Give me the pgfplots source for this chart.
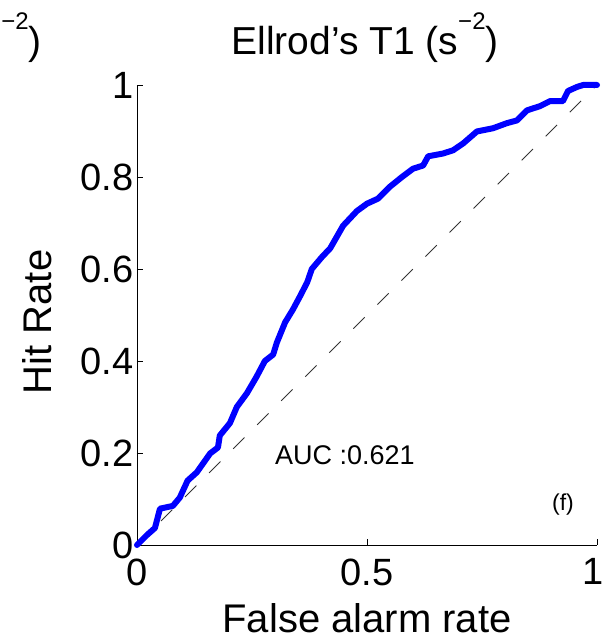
\documentclass[border=0pt]{standalone}
\usepackage{fontspec}
\setmainfont{Liberation Sans}
\usepackage{pgfplots}
\pgfplotsset{compat=1.18}
\newcommand{\supm}{\raisebox{25pt}{\fontsize{24}{28}\selectfont −2}}
\begin{document}
\begin{tikzpicture}[x=1pt,y=1pt]
\useasboundingbox (-137,-93) rectangle (469,545);
\node[anchor=base, inner sep=0pt, font=\fontsize{39}{45}\selectfont] at (228,490) {Ellrod’s T1 (s\supm)};
\node[anchor=base east, inner sep=0pt, font=\fontsize{39}{45}\selectfont] at (-95,490) {\supm)};
\begin{axis}[
  at={(0,0)}, anchor=south west,
  scale only axis, width=460pt, height=460pt,
  xmin=0, xmax=1, ymin=0, ymax=1,
  axis x line*=bottom, axis y line*=left,
  xtick={0,0.5,1}, xticklabels={0,0.5,\kern-8pt 1},
  ytick={0,0.2,0.4,0.6,0.8,1}, yticklabels={0,0.2,0.4,0.6,0.8,1},
  tick align=inside, major tick length=6pt,
  tick style={black, line width=0.8pt},
  axis line style={black, line width=0.8pt},
  /pgf/number format/assume math mode=true,
  ticklabel style={font=\fontsize{38}{44}\selectfont},
  xticklabel style={yshift=-10pt},
  xlabel={False alarm rate},
  xlabel style={at={(axis description cs:0.5,-0.191)}, anchor=base, font=\fontsize{40}{46}\selectfont},
  ylabel={Hit Rate},
  ylabel style={at={(axis description cs:-0.217,0.485)}, anchor=center, font=\fontsize{40}{46}\selectfont},
  clip=false,
]
\addplot[black!80, line width=1pt, dash pattern=on 16pt off 18pt] coordinates {(0,0) (1,1)};
\addplot[blue, line width=6pt, line join=round, line cap=round] coordinates {
(0,0)
(0.022,0.022)
(0.039,0.037)
(0.05,0.079)
(0.078,0.085)
(0.093,0.103)
(0.11,0.14)
(0.13,0.158)
(0.159,0.199)
(0.176,0.212)
(0.18,0.238)
(0.202,0.265)
(0.217,0.30)
(0.239,0.33)
(0.26,0.366)
(0.278,0.40)
(0.296,0.414)
(0.304,0.44)
(0.322,0.484)
(0.339,0.512)
(0.354,0.54)
(0.37,0.571)
(0.38,0.60)
(0.402,0.626)
(0.42,0.645)
(0.448,0.694)
(0.478,0.726)
(0.5,0.742)
(0.524,0.753)
(0.55,0.779)
(0.576,0.80)
(0.6,0.818)
(0.622,0.825)
(0.633,0.845)
(0.665,0.851)
(0.687,0.858)
(0.709,0.873)
(0.739,0.899)
(0.774,0.906)
(0.804,0.917)
(0.826,0.923)
(0.848,0.945)
(0.876,0.954)
(0.898,0.965)
(0.926,0.965)
(0.937,0.987)
(0.957,0.996)
(0.97,1)
(1,1)
};
\node[anchor=west, inner sep=0pt, font=\fontsize{27}{32}\selectfont] at (axis cs:0.30,0.195) {AUC :0.621};
\node[anchor=center, inner sep=0pt, font=\fontsize{23}{28}\selectfont] at (axis cs:0.926,0.087) {(f)};
\end{axis}
\end{tikzpicture}
\end{document}
